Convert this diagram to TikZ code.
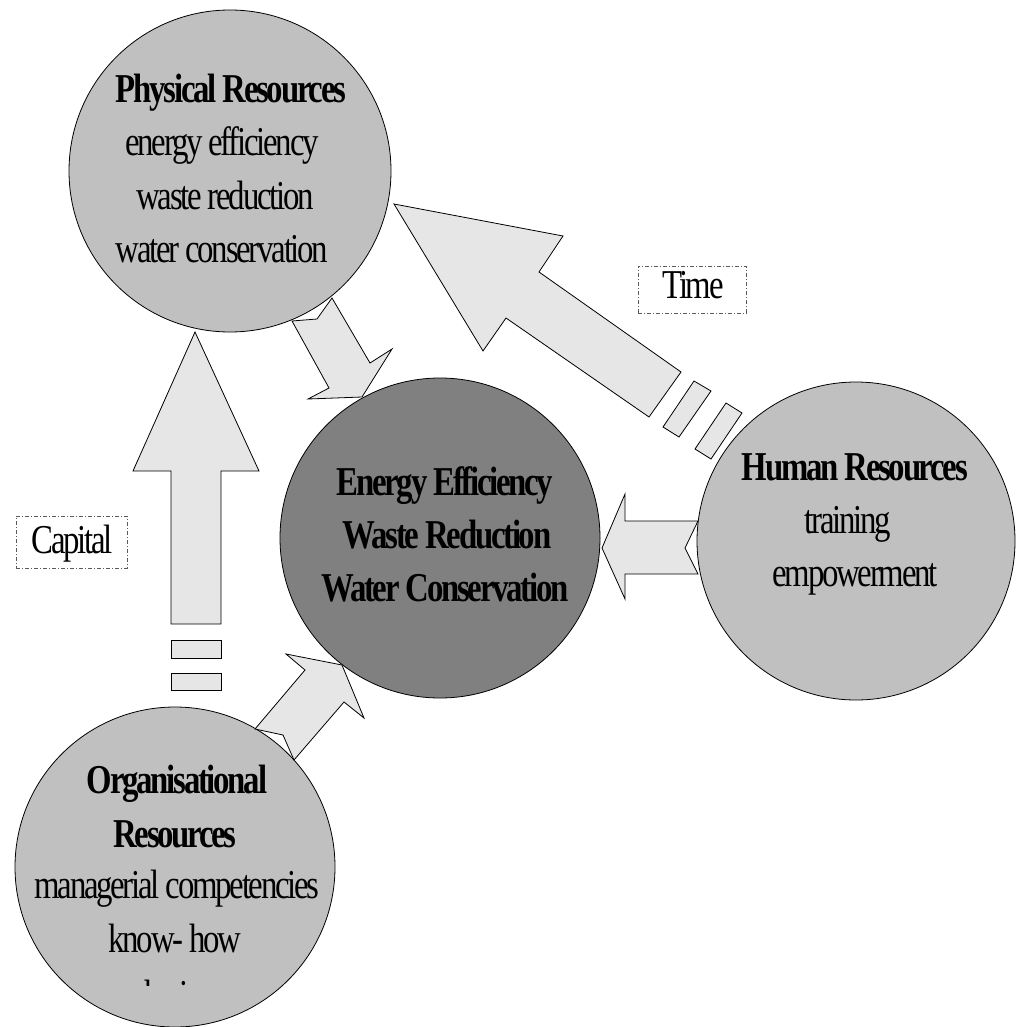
\documentclass[tikz,border=0pt]{standalone}
\usepackage{fontspec}
\setmainfont{Liberation Serif}[FakeStretch=0.8,LetterSpace=-5.5]
\definecolor{cLight}{RGB}{192,192,192}
\definecolor{cDark}{RGB}{128,128,128}
\definecolor{cArrow}{RGB}{230,230,230}
\definecolor{cDash}{RGB}{90,90,90}
\tikzset{
  res/.style={circle, draw=black, line width=0.8pt, fill=cLight, inner sep=0pt},
  blk/.style={draw=black, fill=cArrow, line width=0.8pt, line join=miter},
  lblbox/.style={draw=cDash, dash pattern=on 4pt off 2pt on 1pt off 2pt, line width=0.8pt, inner sep=0pt},
  txt/.style={anchor=base, inner sep=0pt, font=\fontsize{41}{49}\selectfont},
  btxt/.style={txt, font=\fontsize{41}{49}\selectfont\bfseries}
}
\begin{document}
\begin{tikzpicture}[x=1pt,y=-1pt]
\useasboundingbox (0,0) rectangle (1015,1027);
% circles
\node[res, minimum size=322pt] (phys) at (230,171) {};
\node[res, fill=cDark, minimum size=320pt] (core) at (440,538) {};
\node[res, minimum size=318pt] (human) at (856,541) {};
\node[res, minimum size=320pt] (org) at (175,867) {};
% block arrows
% Capital (org -> phys)
\draw[blk] (195,332) -- (259,471) -- (221,471) -- (221,624) -- (171,624) -- (171,471) -- (133,471) -- cycle;
\draw[blk] (171,640) rectangle (221,658);
\draw[blk] (171,673) rectangle (221,690);
% Time (human -> phys)
\draw[blk] (394,204) -- (563,236) -- (539,272) -- (681,372) -- (649,417) -- (506,318) -- (483,351) -- cycle;
\draw[blk] (694,381) -- (711,391) -- (679,437) -- (663,427) -- cycle;
\draw[blk] (726,403) -- (742,413) -- (711,459) -- (695,449) -- cycle;
% phys -> core
\draw[blk] (292,321) -- (317,319) -- (332,298) -- (370,363) -- (392,349) -- (362,397) -- (308,399) -- (329,388) -- cycle;
% human -> core
\draw[blk] (602,548) -- (625,494) -- (625,521) -- (698,521) -- (685,548) -- (698,574) -- (625,574) -- (625,599) -- cycle;
% org -> core
\draw[blk] (255,729) -- (283,735) -- (294,760) -- (344,702) -- (364,718) -- (342,665) -- (286,654) -- (305,670) -- cycle;
% label boxes
\node[lblbox, minimum width=111pt, minimum height=52pt] (capbox) at (71.5,542) {};
\node[txt] (captxt) at (72,553) {Capital};
\node[lblbox, minimum width=108pt, minimum height=47pt] (timebox) at (692,289.5) {};
\node[txt] (timetxt) at (693,298) {Time};
% physical text
\node[btxt] (p1) at (231,103) {Physical Resources};
\node[txt] (p2) at (222,156) {energy efficiency};
\node[txt] (p3) at (225,209) {waste reduction};
\node[txt] (p4) at (222,262) {water conservation};
% core text
\node[btxt] (c1) at (445,495) {Energy Efficiency};
\node[btxt] (c2) at (447,548) {Waste Reduction};
\node[btxt] (c3) at (445,601) {Water Conservation};
% human text
\node[btxt] (h1) at (855,480) {Human Resources};
\node[txt] (h2) at (848,533) {training};
\node[txt] (h3) at (855,586) {empowerment};
% organisational text
\node[btxt] (o1) at (177,793) {Organisational};
\node[btxt] (o2) at (175,847) {Resources};
\node[txt] (o3) at (177,898) {managerial competencies};
\node[txt] (o4) at (175,952) {know- how};
\begin{scope}
\clip (0,900) rectangle (400,985);
\node[txt] (o5) at (175,1008) {sharing};
\end{scope}
\end{tikzpicture}
\end{document}
